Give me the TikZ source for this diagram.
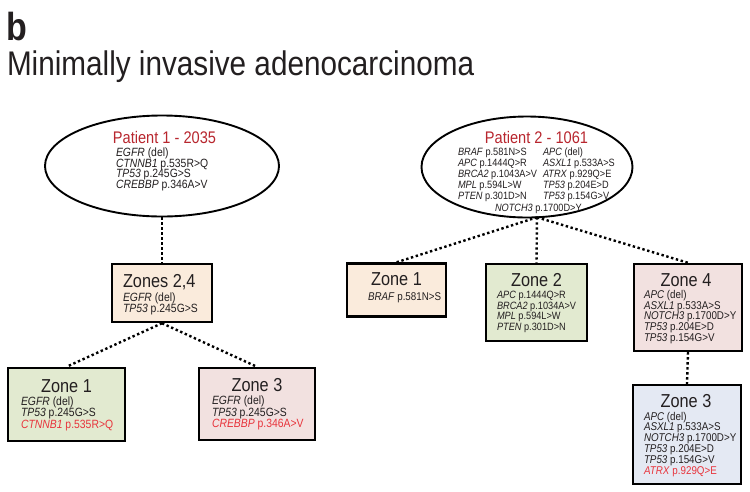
\documentclass[tikz,border=0pt]{standalone}
\usepackage{fontspec}
\setmainfont{Liberation Sans}
\usetikzlibrary{shapes.geometric}
\definecolor{ink}{HTML}{231F20}
\definecolor{ptred}{HTML}{B8262E}
\definecolor{mred}{HTML}{E8343C}
\definecolor{zpeach}{HTML}{FAEBDC}
\definecolor{zgreen}{HTML}{E2EAD0}
\definecolor{zpink}{HTML}{F2E1E0}
\definecolor{zblue}{HTML}{E4E9F3}
\tikzset{
  st/.style={inner sep=0pt, outer sep=0pt, transform shape, yscale=1.15, text=ink},
  ztitle/.style={st, anchor=base, font=\fontsize{16.3}{18}\selectfont},
  ptitle/.style={st, anchor=base, text=ptred, font=\fontsize{14.6}{16}\selectfont},
  gbig/.style={st, anchor=base west, font=\fontsize{10.4}{12}\selectfont},
  gmid/.style={st, anchor=base west, font=\fontsize{9.8}{12}\selectfont},
  gsmall/.style={st, anchor=base west, font=\fontsize{9.2}{11}\selectfont},
  zonebox/.style={draw=black, line width=2.4pt, inner sep=0pt},
  oval/.style={ellipse, draw=black, line width=1.9pt, inner sep=0pt},
  dots/.style={line width=2.4pt, dash pattern=on 2.4pt off 2.6pt, black}
}
\newcommand{\gn}[1]{\textit{#1}}
\begin{document}
\begin{tikzpicture}[x=1pt,y=1pt]
\useasboundingbox (0,0) rectangle (750,-491);
\fill[white] (0,0) rectangle (750,-491);

% headings
\node[st, anchor=base west, font=\fontsize{34}{36}\selectfont\bfseries] (hb) at (6,-40) {b};
\node[st, anchor=base west, font=\fontsize{29.7}{32}\selectfont] (hs) at (7,-75) {Minimally invasive adenocarcinoma};

% ellipses
\node[oval, minimum width=234pt, minimum height=101pt] (e1) at (162,-166) {};
\node[oval, minimum width=211pt, minimum height=101pt] (e2) at (527,-167) {};
\coordinate (e2b) at (537,-217.3);

% boxes
\node[zonebox, fill=zpeach, minimum width=100pt, minimum height=58pt] (z24) at (162,-293) {};
\node[zonebox, fill=zgreen, minimum width=117pt, minimum height=73pt] (z1L) at (66.5,-404.5) {};
\node[zonebox, fill=zpink, minimum width=116pt, minimum height=72pt] (z3L) at (257,-404) {};
\node[zonebox, fill=zpeach, minimum width=99pt, minimum height=53pt] (z1R) at (396.5,-290) {};
\node[zonebox, fill=zgreen, minimum width=101pt, minimum height=77pt] (z2R) at (536.5,-302.5) {};
\node[zonebox, fill=zpink, minimum width=108pt, minimum height=87pt] (z4R) at (688,-307.5) {};
\node[zonebox, fill=zblue, minimum width=108pt, minimum height=99pt] (z3R) at (687,-434.5) {};

% connectors
\draw[dots] (e1.south) -- (z24.north);
\draw[dots] (z24.south) -- (z1L.north);
\draw[dots] (z24.south) -- (z3L.north);
\draw[dots] (e2b) -- (z1R.north);
\draw[dots] (e2b) -- (z2R.north);
\draw[dots] (e2b) -- (z4R.north);
\draw[dots] (z4R.south) -- (z3R.north);

% Patient 1
\node[ptitle] (p1t) at (164.5,-143) {Patient 1 - 2035};
\node[gbig] (p1a) at (116,-156.5) {\gn{EGFR} (del)};
\node[gbig] (p1b) at (116,-167) {\gn{CTNNB1} p.535R>Q};
\node[gbig] (p1c) at (116,-177.5) {\gn{TP53} p.245G>S};
\node[gbig] (p1d) at (116,-188) {\gn{CREBBP} p.346A>V};

% Patient 2
\node[ptitle] (p2t) at (536.5,-143) {Patient 2 - 1061};
\node[gsmall] (p2a) at (458,-155) {\gn{BRAF} p.581N>S};
\node[gsmall] (p2b) at (458,-166) {\gn{APC} p.1444Q>R};
\node[gsmall] (p2c) at (458,-177) {\gn{BRCA2} p.1043A>V};
\node[gsmall] (p2d) at (458,-188) {\gn{MPL} p.594L>W};
\node[gsmall] (p2e) at (458,-199) {\gn{PTEN} p.301D>N};
\node[gsmall] (p2f) at (543,-155) {\gn{APC} (del)};
\node[gsmall] (p2g) at (543,-166) {\gn{ASXL1} p.533A>S};
\node[gsmall] (p2h) at (543,-177) {\gn{ATRX} p.929Q>E};
\node[gsmall] (p2i) at (543,-188) {\gn{TP53} p.204E>D};
\node[gsmall] (p2j) at (543,-199) {\gn{TP53} p.154G>V};
\node[gsmall] (p2k) at (495,-211) {\gn{NOTCH3} p.1700D>Y};

% Zones 2,4
\node[ztitle, anchor=base west] (t24) at (123,-287) {Zones 2,4};
\node[gbig] (z24a) at (123,-301) {\gn{EGFR} (del)};
\node[gbig] (z24b) at (123,-312.5) {\gn{TP53} p.245G>S};

% Zone 1 left
\node[ztitle] (t1L) at (66.5,-392) {Zone 1};
\node[gbig] (z1La) at (21,-405) {\gn{EGFR} (del)};
\node[gbig] (z1Lb) at (21,-416.5) {\gn{TP53} p.245G>S};
\node[gbig, text=mred] (z1Lc) at (21,-428) {\gn{CTNNB1} p.535R>Q};

% Zone 3 left
\node[ztitle] (t3L) at (257,-391.5) {Zone 3};
\node[gbig] (z3La) at (212,-404.5) {\gn{EGFR} (del)};
\node[gbig] (z3Lb) at (212,-416) {\gn{TP53} p.245G>S};
\node[gbig, text=mred] (z3Lc) at (212,-427.5) {\gn{CREBBP} p.346A>V};

% Zone 1 right
\node[ztitle] (t1R) at (396.5,-285.5) {Zone 1};
\node[gmid] (z1Ra) at (368,-300) {\gn{BRAF} p.581N>S};

% Zone 2 right
\node[ztitle] (t2R) at (536.5,-286) {Zone 2};
\node[gsmall] (z2Ra) at (497,-298.5) {\gn{APC} p.1444Q>R};
\node[gsmall] (z2Rb) at (497,-309) {\gn{BRCA2} p.1034A>V};
\node[gsmall] (z2Rc) at (497,-319.5) {\gn{MPL} p.594L>W};
\node[gsmall] (z2Rd) at (497,-330) {\gn{PTEN} p.301D>N};

% Zone 4 right
\node[ztitle] (t4R) at (686,-286.5) {Zone 4};
\node[gmid] (z4Ra) at (644,-298.5) {\gn{APC} (del)};
\node[gmid] (z4Rb) at (644,-309.2) {\gn{ASXL1} p.533A>S};
\node[gmid] (z4Rc) at (644,-319.9) {\gn{NOTCH3} p.1700D>Y};
\node[gmid] (z4Rd) at (644,-330.6) {\gn{TP53} p.204E>D};
\node[gmid] (z4Re) at (644,-341.3) {\gn{TP53} p.154G>V};

% Zone 3 right
\node[ztitle] (t3R) at (686,-407) {Zone 3};
\node[gmid] (z3Ra) at (644,-420) {\gn{APC} (del)};
\node[gmid] (z3Rb) at (644,-430.8) {\gn{ASXL1} p.533A>S};
\node[gmid] (z3Rc) at (644,-441.6) {\gn{NOTCH3} p.1700D>Y};
\node[gmid] (z3Rd) at (644,-452.4) {\gn{TP53} p.204E>D};
\node[gmid] (z3Re) at (644,-463.2) {\gn{TP53} p.154G>V};
\node[gmid, text=mred] (z3Rf) at (644,-474) {\gn{ATRX} p.929Q>E};
\end{tikzpicture}
\end{document}
